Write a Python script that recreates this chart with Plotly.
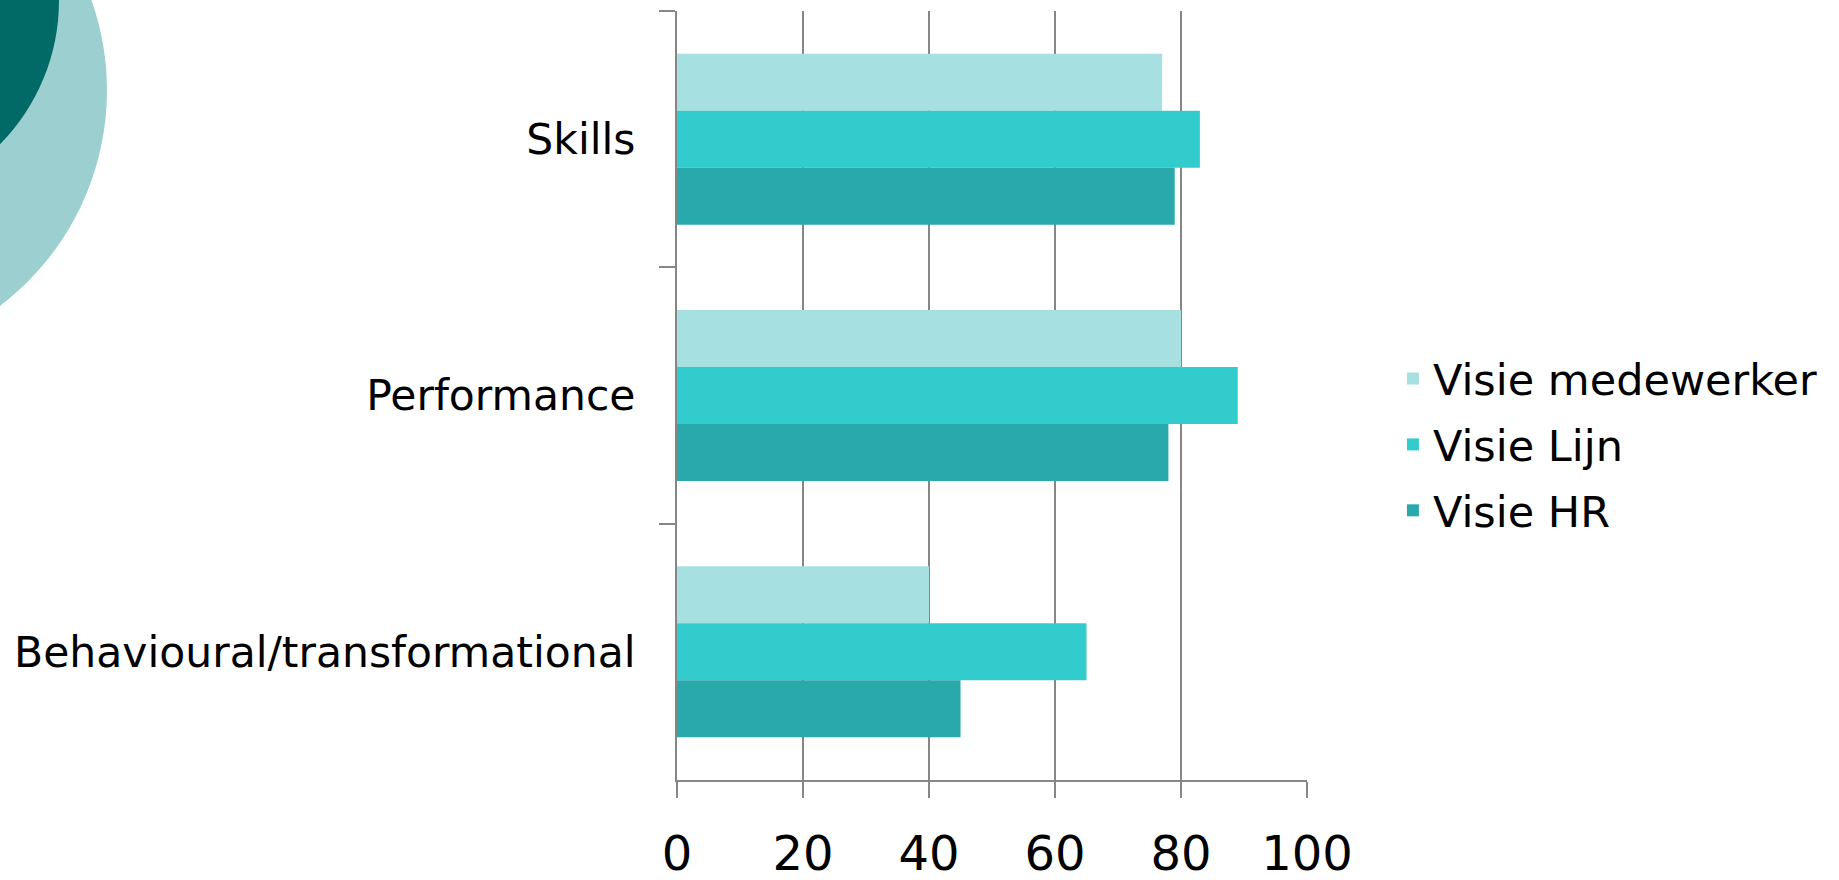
import plotly.graph_objects as go

categories = ["Skills", "Performance", "Behavioural/transformational"]
series_names = ["Visie medewerker", "Visie Lijn", "Visie HR"]
medewerker = [77, 80, 40]
lijn = [83, 89, 65]
hr = [79, 78, 45]
series_values = [medewerker, lijn, hr]
series_colors = ["#A6E0E0", "#33CCCC", "#29A9AB"]
x_ticks = [0, 20, 40, 60, 80, 100]

W, H = 1839, 880
L, R, T, B = 676.5, 1307.0, 10.5, 780.5   # plot area in pixels

FONT = "DejaVu Sans"
GRID = "#868686"

fig = go.Figure()
for name, vals, col in zip(series_names, series_values, series_colors):
    fig.add_trace(go.Bar(
        x=vals, y=categories, name=name, orientation="h",
        marker=dict(color=col, line=dict(width=0)),
        legendgroup=name,
    ))

# decorative circles (pixel geometry converted to paper coords)
pw, ph = R - L, B - T
def px2paper(x, y):
    return (x - L) / pw, (B - y) / ph

def circle(cx, cy, r, color):
    x0, y1 = px2paper(cx - r, cy - r)
    x1, y0 = px2paper(cx + r, cy + r)
    return dict(type="circle", xref="paper", yref="paper",
                x0=x0, x1=x1, y0=y0, y1=y1,
                fillcolor=color, line=dict(width=0), layer="below")

fig.update_layout(
    width=W, height=H,
    margin=dict(l=L, r=W - R, t=T, b=H - B, pad=0, autoexpand=False),
    paper_bgcolor="white", plot_bgcolor="white",
    barmode="group", bargap=0.333, bargroupgap=0,
    font=dict(family=FONT, color="black"),
    showlegend=True,
    legend=dict(
        x=(1393 - L) / pw, y=(B - 344) / ph, xanchor="left", yanchor="top",
        font=dict(family=FONT, size=43, color="black"),
        traceorder="grouped", tracegroupgap=7,
        bgcolor="rgba(0,0,0,0)", itemwidth=30,
    ),
    shapes=[circle(-165, 90, 271, "#9CCFCF"), circle(-147, 0, 205, "#016A66")],
    xaxis=dict(
        range=[0, 100], tickvals=x_ticks, ticktext=[str(v) for v in x_ticks],
        showgrid=True, gridcolor=GRID, gridwidth=2,
        showline=True, linecolor=GRID, linewidth=2,
        ticks="outside", ticklen=16, tickwidth=2, tickcolor=GRID,
        tickfont=dict(family=FONT, size=48, color="black"),
        ticklabelstandoff=14, zeroline=False, fixedrange=True,
        automargin=False,
    ),
    yaxis=dict(
        categoryorder="array", categoryarray=categories, autorange="reversed",
        showgrid=False, showline=True, linecolor=GRID, linewidth=2,
        ticks="outside", ticklen=16, tickwidth=2, tickcolor=GRID,
        tickson="boundaries",
        tickfont=dict(family=FONT, size=42.5, color="black"),
        ticklabelstandoff=31, zeroline=False, fixedrange=True,
        automargin=False,
    ),
)

fig.write_html("out.html", config={"displayModeBar": False},
               post_script="document.body.style.margin='0';document.body.style.overflow='hidden';")
